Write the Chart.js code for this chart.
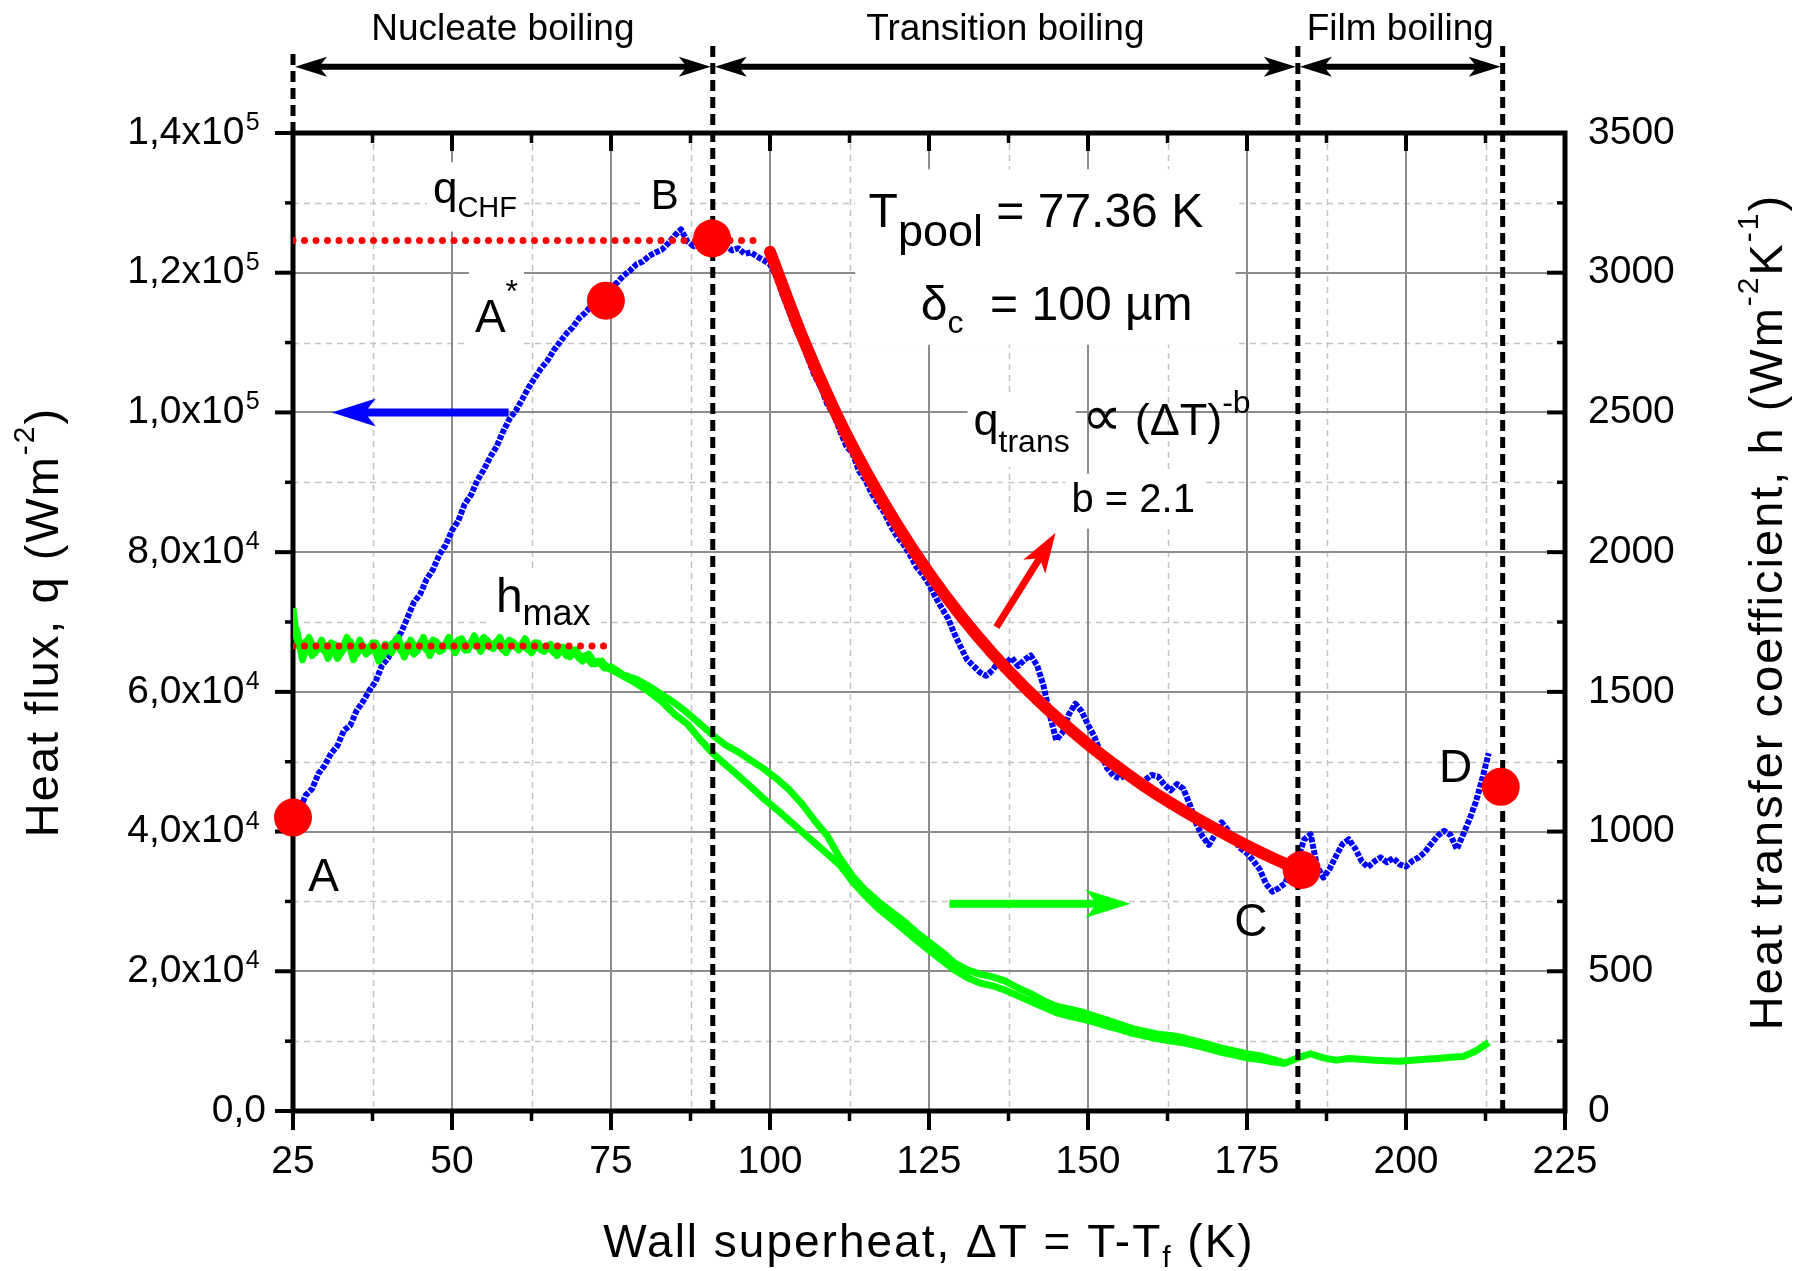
<!DOCTYPE html>
<html><head><meta charset="utf-8">
<script src="https://cdn.jsdelivr.net/npm/chart.js@4.4.1/dist/chart.umd.min.js"></script>
<style>html,body{margin:0;padding:0;background:#fff;}#wrap{width:1793px;height:1271px;}canvas{display:block;}</style>
</head><body><div id="wrap"><canvas id="c" width="1793" height="1271" style="width:1793px;height:1271px"></canvas></div>
<script>
const FONT = "'Liberation Sans', Arial, Helvetica, sans-serif";

// ---------------- data ----------------
const xTicks = [25, 50, 75, 100, 125, 150, 175, 200, 225];
const xMinorTicks = [37.5, 62.5, 87.5, 112.5, 137.5, 162.5, 187.5, 212.5];
const yTicks = [0, 20000, 40000, 60000, 80000, 100000, 120000, 140000];
const yMinorTicks = [10000, 30000, 50000, 70000, 90000, 110000, 130000];
const yTickLabels = ['0,0', '2,0x10', '4,0x10', '6,0x10', '8,0x10', '1,0x10', '1,2x10', '1,4x10'];
const yTickExponents = ['', '4', '4', '4', '4', '5', '5', '5'];
const hTicks = [0, 500, 1000, 1500, 2000, 2500, 3000, 3500];
const hTickLabels = ['0', '500', '1000', '1500', '2000', '2500', '3000', '3500'];

// heat flux q (W/m2) vs wall superheat (K)
const blueT = [25,26,27,28,29,30,31,32,33,34,35,36,37,38,39,40,41,42,43,44,45,46,47,48,49,50,51,52,53,54,
55,56,57,58,59,60,61,62,63,64,65,66,67,68,69,70,71,72,73,74,75,76,77,78,79,80,81,82,83,84,
85,86,87,88,89,90,91,92,93,94,95,96,97,98,99,100,101,102,103,104,105,106,107,108,109,110,111,112,113,114,
115,116,117,118,119,120,121,122,123,124,125,126,127,128,129,130,131,132,133,134,135,136,137,138,139,140,141,142,143,144,
145,146,147,148,149,150,151,152,153,154,155,156,157,158,159,160,161,162,163,164,165,166,167,168,169,170,171,172,173,174,
175,176,177,178,179,180,181,182,183,184,185,186,187,188,189,190,191,192,193,194,195,196,197,198,199,200,201,202,203,204,
205,206,207,208,209,210,211,212,213];
const blueQ = [41800,43000,45200,46100,48300,49500,51200,52300,54500,55200,
57300,58600,60200,61500,63800,64900,67300,68500,70600,72800,
74000,76100,77500,79600,81000,83100,84500,86900,88200,90300,
91800,93600,95100,97200,99000,100200,101800,103500,104900,106300,
107400,108900,110100,111300,112200,113500,114300,115400,115900,116800,
117900,118600,119600,120300,121200,121600,122400,122900,123300,124200,
125300,126200,124500,123800,124600,123900,124700,123600,124000,123200,
123500,122700,122900,122300,121800,121200,119500,116800,114500,112000,
110200,107700,105300,103600,101200,99800,97400,95200,94100,91600,
90300,88400,86900,85600,83700,82200,81100,79600,77900,76800,
75400,73600,72000,70500,68300,66400,64600,63700,62800,62300,
63100,64400,64000,64900,63700,64600,65200,63800,60900,56700,
53100,54200,56800,58300,57200,55300,53600,51200,49100,48000,
47600,48200,47300,46600,47400,48100,47900,46700,45900,46800,
46100,43900,41200,39300,38100,39600,41300,40200,38700,37600,
36900,35800,34600,32500,31400,31900,32600,34800,36200,38900,
39600,35100,33400,34700,36500,38200,38900,37600,35800,34900,
35700,36300,35600,36200,35300,35000,35800,36300,37100,38300,
39400,40100,39500,37500,39600,41800,44300,47600,51200];

// heat transfer coefficient h (W/m2K), branch A and branch B
const greenAT = [25,25.5,26,27,28,29,30,31,32,33,34,35,36,37,38,39,40,41,42,43,44,45,46,47,48,49,50,
51,52,53,54,55,56,57,58,59,60,61,62,63,64,65,66,67,68,69,70,71,72,73,74,75,
77,79,81,83,85,87,89,91,93,95,97,99,101,103,105,107,109,111,113,115,117,119,121,123,125,127,129,131,133,135,137,139,
141,143,145,147,149,151,153,155,157,159,161,163,165,167,169,171,173,175,177,179,181,183,185,187,189,191,193,195,197,199,
201,203,205,207,209,211,213];
const greenAH = [1800,1700,1660,1680,1630,1665,1645,1675,1620,1655,1680,1635,1665,1645,1675,1625,1660,1680,1645,1670,1635,1675,1650,1685,1645,1670,1660,
1685,1650,1675,1660,1695,1660,1680,1650,1685,1660,1670,1650,1675,1650,1665,1640,1660,1630,1650,1620,1630,1600,1610,1585,1590,
1560,1545,1520,1490,1460,1425,1385,1345,1310,1285,1255,1225,1190,1150,1100,1040,985,905,840,790,750,715,680,640,605,570,530,505,490,480,465,440,
420,395,375,365,355,340,325,310,295,285,275,270,262,250,238,225,215,205,198,185,172,190,205,190,182,188,185,182,180,178,
182,185,188,192,195,215,245];
const greenBT = [25.5,26.5,27.5,28.5,29.5,30.5,31.5,32.5,33.5,34.5,35.5,36.5,37.5,38.5,39.5,40.5,41.5,42.5,43.5,44.5,45.5,46.5,47.5,48.5,49.5,
50.5,51.5,52.5,53.5,54.5,55.5,56.5,57.5,58.5,59.5,60.5,61.5,62.5,63.5,64.5,65.5,66.5,67.5,68.5,69.5,70.5,71.5,72.5,73.5,74.5,
75,77,79,81,83,85,87,89,91,93,95,97,99,101,103,105,107,109,111,113,115,117,119,121,123,125,127,129,
131,133,135,137,139,141,143,145,147,149,151,153,155,157,159,161,163,165,167,169,171,173,175,177,179,181];
const greenBH = [1730,1615,1695,1640,1685,1620,1670,1640,1695,1615,1685,1635,1675,1610,1670,1640,1695,1625,1685,1645,1695,1630,1680,1650,1695,
1640,1690,1650,1700,1645,1685,1655,1695,1640,1680,1650,1690,1640,1675,1645,1670,1630,1660,1625,1650,1610,1635,1600,1610,1585,
1580,1555,1530,1500,1465,1420,1385,1330,1280,1240,1200,1160,1118,1080,1040,1000,960,920,880,820,770,725,688,650,612,575,540,505,
478,458,448,432,412,392,372,352,340,330,318,304,292,278,268,258,250,244,234,222,210,200,190,184,176,170];

// transition boiling fit, q ~ dT^-2.1
const fitT = [100,105,110,115,120,125,130,135,140,145,150,155,160,165,170,175,180,183];
const fitQ = [123000,111000,100600,91700,83900,77000,70900,65500,60700,56400,52500,49000,45800,43000,40400,38000,35800,34600];

// characteristic points A, A*, B, C, D
const pointT = [25, 74.2, 90.9, 183.6, 214.9];
const pointQ = [42000, 116000, 124900, 34500, 46400];

const qChfT = [25, 99];
const qChfValue = 124600;
const hMaxT = [25, 75.6];
const hMaxValue = 1664;

const regionBounds = [25, 91, 183, 215.2];
const regionNames = ['Nucleate boiling', 'Transition boiling', 'Film boiling'];
const dashTop = 153000;
const firstDashTop = 151700;

// ---------------- layout / annotation config ----------------
const notes = [
  {x:47.0,  y:129960, box:true, segs:[['q',44,0],['CHF',29,14]]},
  {x:81.25, y:129100, box:true, segs:[['B',42,0]]},
  {x:53.6,  y:111450, box:true, segs:[['A',46,0],['*',32,-30]]},
  {x:27.4,  y:31560,  segs:[['A',46,0]]},
  {x:173.0, y:25100,  segs:[['C',46,0]]},
  {x:205.2, y:47050,  segs:[['D',46,0]]},
  {x:56.9,  y:71430,  box:true, segs:[['h',48,0],['max',36,13]]},
  {x:115.5, y:126500, segs:[['T',48,0],['pool',45,19],[' = 77.36 K',48,0]]},
  {x:123.7, y:113300, segs:[['δ',48,0],['c',32,13],['  = 100 µm',48,0]]},
  {x:132.0, y:96820,  box:true, boxUpTo:2, segs:[['q',45,0],['trans',32,17],[' ',45,0],['∝',56,0],[' (ΔT)',45,0],['-b',32,-22]]},
  {x:147.4, y:85780,  box:true, segs:[['b = 2.1',40,0]]}
];
const whiteBoxes = [{x0:113.4, x1:173.2, y0:109700, y1:134800}];
const arrows = [
  {x0:58.9, y0:100000, x1:31.1, y1:100000, axis:'y', color:'#0000ff', w:8, hl:44, hw:14},
  {x0:128.2, y0:742, x1:156.7, y1:742, axis:'y2', color:'#00ff00', w:8, hl:45, hw:14},
  {x0:135.6, y0:69280, x1:144.9, y1:82770, axis:'y', color:'#ff0000', w:7, hl:40, hw:13}
];
const topArrowQ = 149500;
const regionLabelQ = 153300;

// ---------------- helpers ----------------
function richW(ctx, segs, upTo){let w=0; segs.slice(0, upTo ?? segs.length).forEach(([t,s])=>{ctx.font=`${s}px ${FONT}`; w+=ctx.measureText(t).width;}); return w;}
function richDraw(ctx, x, yb, segs){let cx=x; segs.forEach(([t,s,dy])=>{ctx.font=`${s}px ${FONT}`; ctx.fillText(t,cx,yb+(dy||0)); cx+=ctx.measureText(t).width;});}
function arrowHead(ctx, tx, ty, ux, uy, hl, hw){
  const bx=tx-ux*hl, by=ty-uy*hl, nx=-uy, ny=ux;
  const mx=tx-ux*hl*0.75, my=ty-uy*hl*0.75;
  ctx.beginPath(); ctx.moveTo(tx,ty); ctx.lineTo(bx+nx*hw,by+ny*hw); ctx.lineTo(mx,my); ctx.lineTo(bx-nx*hw,by-ny*hw); ctx.closePath(); ctx.fill();
}
function drawArrow(ctx, x0,y0,x1,y1,w,hl,hw,color,both){
  const d=Math.hypot(x1-x0,y1-y0), ux=(x1-x0)/d, uy=(y1-y0)/d;
  ctx.strokeStyle=color; ctx.fillStyle=color; ctx.lineWidth=w; ctx.lineCap='butt'; ctx.setLineDash([]);
  const sx = both ? x0+ux*hl*0.6 : x0, sy = both ? y0+uy*hl*0.6 : y0;
  ctx.beginPath(); ctx.moveTo(sx,sy); ctx.lineTo(x1-ux*hl*0.6,y1-uy*hl*0.6); ctx.stroke();
  arrowHead(ctx,x1,y1,ux,uy,hl,hw);
  if(both) arrowHead(ctx,x0,y0,-ux,-uy,hl,hw);
}

const framePlugin = {
  id:'frame',
  beforeDatasetsDraw(chart){
    const {ctx, chartArea:a, scales:{x,y}} = chart;
    const L=(x1,y1,x2,y2)=>{ctx.beginPath();ctx.moveTo(x1,y1);ctx.lineTo(x2,y2);ctx.stroke();};
    ctx.save();
    ctx.lineWidth=1.5; ctx.strokeStyle='#c4c4c4'; ctx.setLineDash([6,5]);
    xMinorTicks.forEach(v=>{const p=Math.round(x.getPixelForValue(v))+0.5; L(p,a.top,p,a.bottom);});
    yMinorTicks.forEach(v=>{const p=Math.round(y.getPixelForValue(v))+0.5; L(a.left,p,a.right,p);});
    ctx.setLineDash([]); ctx.lineWidth=2; ctx.strokeStyle='#8c8c8c';
    xTicks.forEach(v=>{const p=Math.round(x.getPixelForValue(v)); L(p,a.top,p,a.bottom);});
    yTicks.forEach(v=>{const p=Math.round(y.getPixelForValue(v)); L(a.left,p,a.right,p);});
    ctx.fillStyle='#fff';
    whiteBoxes.forEach(b=>{const X0=x.getPixelForValue(b.x0),X1=x.getPixelForValue(b.x1),Y0=y.getPixelForValue(b.y1),Y1=y.getPixelForValue(b.y0); ctx.fillRect(X0,Y0,X1-X0,Y1-Y0);});
    ctx.textAlign='left'; ctx.textBaseline='alphabetic';
    notes.forEach(n=>{
      const px=x.getPixelForValue(n.x), py=y.getPixelForValue(n.y);
      if(n.box){
        const segs=n.segs.slice(0,n.boxUpTo ?? n.segs.length);
        const w=richW(ctx,segs);
        let top=Infinity,bot=-Infinity;
        segs.forEach(([t,s,dy])=>{top=Math.min(top,(dy||0)-0.75*s); bot=Math.max(bot,(dy||0)+0.22*s);});
        ctx.fillStyle='#fff'; ctx.fillRect(px-6,py+top-8,w+12,bot-top+16);
      }
    });
    ctx.fillStyle='#000';
    notes.forEach(n=>{richDraw(ctx,x.getPixelForValue(n.x),y.getPixelForValue(n.y),n.segs);});
    ctx.strokeStyle='#000'; ctx.lineWidth=5; ctx.lineCap='square';
    ctx.strokeRect(a.left,a.top,a.right-a.left,a.bottom-a.top);
    ctx.lineCap='butt'; ctx.lineWidth=4;
    xTicks.forEach(v=>{const p=x.getPixelForValue(v); L(p,a.bottom,p,a.bottom+19); L(p,a.top,p,a.top+18);});
    ctx.lineWidth=3.5;
    xMinorTicks.forEach(v=>{const p=x.getPixelForValue(v); L(p,a.bottom,p,a.bottom+10); L(p,a.top,p,a.top+10);});
    ctx.lineWidth=4;
    yTicks.forEach(v=>{const p=y.getPixelForValue(v); L(a.left-18,p,a.left,p); L(a.right-18,p,a.right,p);});
    ctx.lineWidth=3.5;
    yMinorTicks.forEach(v=>{const p=y.getPixelForValue(v); L(a.left-8,p,a.left,p); L(a.right-8,p,a.right,p);});
    ctx.restore();
  },
  afterDatasetsDraw(chart){
    const {ctx, chartArea:a, scales} = chart;
    const x=scales.x, y=scales.y;
    ctx.save();
    arrows.forEach(r=>{const ys=scales[r.axis]; drawArrow(ctx,x.getPixelForValue(r.x0),ys.getPixelForValue(r.y0),x.getPixelForValue(r.x1),ys.getPixelForValue(r.y1),r.w,r.hl,r.hw,r.color,false);});
    const ty=y.getPixelForValue(topArrowQ);
    for(let i=0;i<regionNames.length;i++){
      const x0=x.getPixelForValue(regionBounds[i]), x1=x.getPixelForValue(regionBounds[i+1]);
      drawArrow(ctx,x0+2,ty,x1-2,ty,6,32,10,'#000',true);
      ctx.font=`37px ${FONT}`; ctx.fillStyle='#000'; ctx.textAlign='center'; ctx.textBaseline='alphabetic';
      ctx.fillText(regionNames[i],(x0+x1)/2,y.getPixelForValue(regionLabelQ));
    }
    ctx.textAlign='left'; ctx.font=`39px ${FONT}`;
    const gap=ctx.measureText('  ').width;
    ctx.font=`25px ${FONT}`;
    yTicks.forEach((v,i)=>{ if(yTickExponents[i]){ ctx.fillText(yTickExponents[i], a.left-27-gap+1.5, y.getPixelForValue(v)-3); } });
    try{ctx.letterSpacing='2px';}catch(e){}
    const xt=[['Wall superheat, ΔT = T-T',46,0],['f',30,10],[' (K)',46,0]];
    richDraw(ctx,(a.left+a.right)/2-richW(ctx,xt)/2,1257,xt);
    const lt=[['Heat flux, q (Wm',47,0],['-2',30,-24],[')',47,0]];
    ctx.save(); ctx.translate(58,(a.top+a.bottom)/2); ctx.rotate(-Math.PI/2); richDraw(ctx,-richW(ctx,lt)/2,0,lt); ctx.restore();
    const rt=[['Heat transfer coefficient, h (Wm',47,0],['-2',30,-24],['K',47,0],['-1',30,-24],[')',47,0]];
    ctx.save(); ctx.translate(1782,612); ctx.rotate(-Math.PI/2); richDraw(ctx,-richW(ctx,rt)/2,0,rt); ctx.restore();
    try{ctx.letterSpacing='0px';}catch(e){}
    ctx.restore();
  }
};

const pts=(xs,ys)=>xs.map((v,i)=>({x:v,y:ys[i]}));
const vline=(t,bottom,top)=>({data:[{x:t,y:bottom},{x:t,y:top}],showLine:true,borderColor:'#000',borderWidth:5,borderDash:[11,6],pointRadius:0,clip:false,order:1,yAxisID:'y'});

Chart.defaults.font.family = FONT;
new Chart(document.getElementById('c'), {
  type:'scatter',
  data:{datasets:[
    {label:'A, A*, B, C, D', data:pts(pointT,pointQ), pointRadius:19, pointBackgroundColor:'#ff0000', pointBorderWidth:0, showLine:false, clip:false, order:0, yAxisID:'y'},
    vline(regionBounds[0],140000,firstDashTop), vline(regionBounds[1],0,dashTop), vline(regionBounds[2],0,dashTop), vline(regionBounds[3],0,dashTop),
    {label:'q_trans fit', data:pts(fitT,fitQ), showLine:true, borderColor:'#ff0000', borderWidth:12, cubicInterpolationMode:'monotone', pointRadius:0, order:2, yAxisID:'y', borderCapStyle:'round'},
    {label:'q_CHF', data:pts(qChfT,[qChfValue,qChfValue]), showLine:true, borderColor:'#ff0000', borderWidth:7, borderDash:[0,11.5], borderCapStyle:'round', pointRadius:0, order:3, yAxisID:'y'},
    {label:'h_max', data:pts(hMaxT,[hMaxValue,hMaxValue]), showLine:true, borderColor:'#ff0000', borderWidth:7, borderDash:[0,11.5], borderCapStyle:'round', pointRadius:0, order:3, yAxisID:'y2'},
    {label:'h (branch A)', data:pts(greenAT,greenAH), showLine:true, borderColor:'#00ff00', borderWidth:7, borderJoinStyle:'round', pointRadius:0, order:4, yAxisID:'y2'},
    {label:'h (branch B)', data:pts(greenBT,greenBH), showLine:true, borderColor:'#00ff00', borderWidth:7, borderJoinStyle:'round', pointRadius:0, order:4, yAxisID:'y2'},
    {label:'q', data:pts(blueT,blueQ), showLine:true, borderColor:'#0000ff', borderWidth:6, borderDash:[5,1.5], borderJoinStyle:'round', pointRadius:0, order:5, yAxisID:'y'}
  ]},
  options:{
    responsive:false, animation:false, devicePixelRatio:1,
    layout:{padding:{top:133,left:0,right:0,bottom:0}},
    plugins:{legend:{display:false}, tooltip:{enabled:false}},
    scales:{
      x:{type:'linear', position:'bottom', min:25, max:225,
         ticks:{stepSize:25, autoSkip:false, maxRotation:0, font:{size:39}, color:'#000', padding:28},
         grid:{display:false, drawTicks:false}, border:{display:false}, afterFit(s){s.height=160;}},
      y:{type:'linear', position:'left', min:0, max:140000,
         ticks:{stepSize:20000, font:{size:39}, color:'#000', padding:27,
                callback:(v)=>{const k=yTicks.indexOf(v); return k<0?'':yTickLabels[k]+(yTickExponents[k]?'  ':'');}},
         grid:{display:false, drawTicks:false}, border:{display:false}, afterFit(s){s.width=293;}},
      y2:{type:'linear', position:'right', min:0, max:3500,
          ticks:{stepSize:500, font:{size:39}, color:'#000', padding:23,
                 callback:(v)=>{const k=hTicks.indexOf(v); return k<0?'':hTickLabels[k];}},
          grid:{display:false, drawTicks:false}, border:{display:false}, afterFit(s){s.width=228;}}
    }
  },
  plugins:[framePlugin]
});
</script></body></html>
